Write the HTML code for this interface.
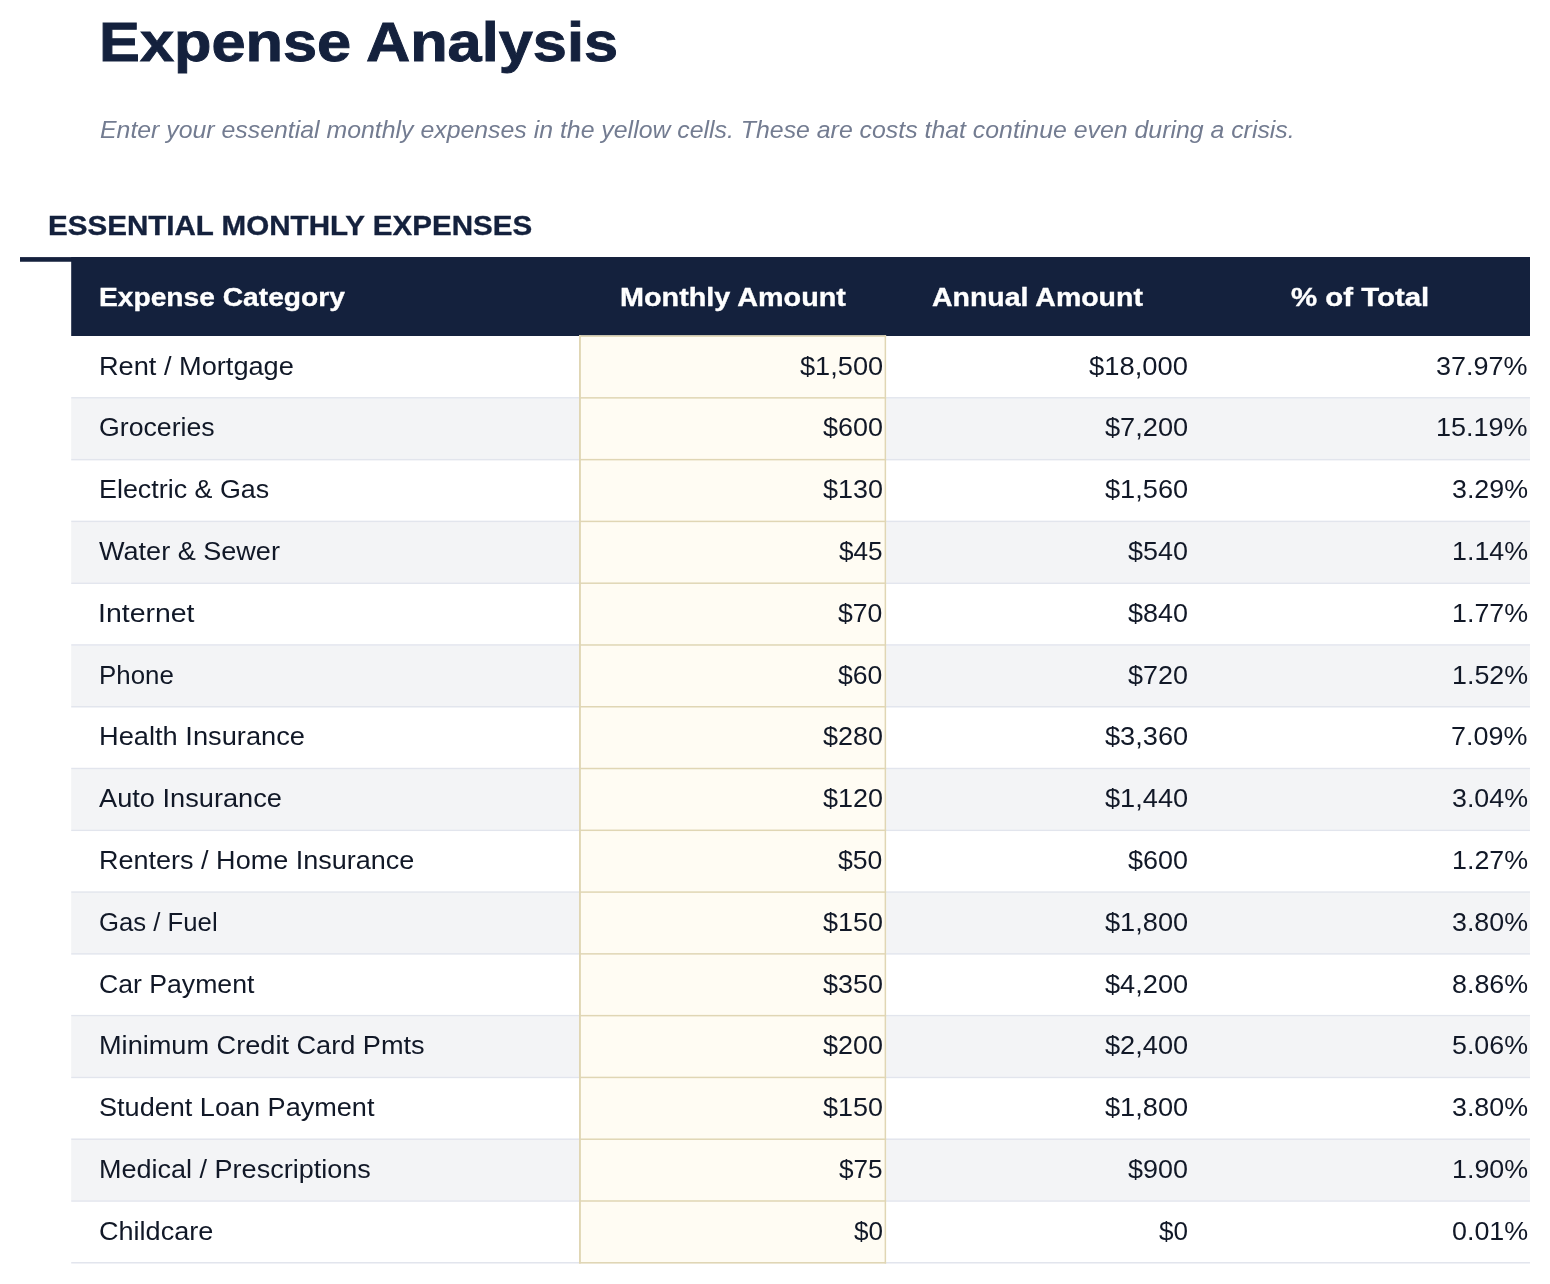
<!DOCTYPE html>
<html><head><meta charset="utf-8"><title>Expense Analysis</title><style>
*{margin:0;padding:0;box-sizing:border-box}
html,body{width:1550px;height:1284px;background:#fff;overflow:hidden}
body{position:relative;font-family:"Liberation Sans",sans-serif}
svg{position:absolute;left:0;top:0}
.t{position:absolute;white-space:nowrap;line-height:1;transform-origin:0 0;will-change:transform}
</style></head>
<body>
<svg width="1550" height="1284" viewBox="0 0 1550 1284"><rect x="20.00" y="257.10" width="1510.00" height="4.65" fill="#14213d"/><rect x="71.20" y="257.10" width="1458.80" height="78.90" fill="#14213d"/><rect x="71.20" y="398.60" width="1458.80" height="60.28" fill="#f3f4f6"/><rect x="71.20" y="522.16" width="1458.80" height="60.28" fill="#f3f4f6"/><rect x="71.20" y="645.72" width="1458.80" height="60.28" fill="#f3f4f6"/><rect x="71.20" y="769.28" width="1458.80" height="60.28" fill="#f3f4f6"/><rect x="71.20" y="892.84" width="1458.80" height="60.28" fill="#f3f4f6"/><rect x="71.20" y="1016.40" width="1458.80" height="60.28" fill="#f3f4f6"/><rect x="71.20" y="1139.96" width="1458.80" height="60.28" fill="#f3f4f6"/><rect x="71.20" y="397.10" width="1458.80" height="1.50" fill="#e2e5ed"/><rect x="71.20" y="458.88" width="1458.80" height="1.50" fill="#e2e5ed"/><rect x="71.20" y="520.66" width="1458.80" height="1.50" fill="#e2e5ed"/><rect x="71.20" y="582.44" width="1458.80" height="1.50" fill="#e2e5ed"/><rect x="71.20" y="644.22" width="1458.80" height="1.50" fill="#e2e5ed"/><rect x="71.20" y="706.00" width="1458.80" height="1.50" fill="#e2e5ed"/><rect x="71.20" y="767.78" width="1458.80" height="1.50" fill="#e2e5ed"/><rect x="71.20" y="829.56" width="1458.80" height="1.50" fill="#e2e5ed"/><rect x="71.20" y="891.34" width="1458.80" height="1.50" fill="#e2e5ed"/><rect x="71.20" y="953.12" width="1458.80" height="1.50" fill="#e2e5ed"/><rect x="71.20" y="1014.90" width="1458.80" height="1.50" fill="#e2e5ed"/><rect x="71.20" y="1076.68" width="1458.80" height="1.50" fill="#e2e5ed"/><rect x="71.20" y="1138.46" width="1458.80" height="1.50" fill="#e2e5ed"/><rect x="71.20" y="1200.24" width="1458.80" height="1.50" fill="#e2e5ed"/><rect x="71.20" y="1262.02" width="1458.80" height="1.50" fill="#e2e5ed"/><rect x="579.00" y="335.40" width="307.10" height="928.12" fill="#fffcf3"/><rect x="579.00" y="335.40" width="307.10" height="1.50" fill="#e0d6b4"/><rect x="579.00" y="335.40" width="1.90" height="928.12" fill="#e0d6b4"/><rect x="884.60" y="335.40" width="1.50" height="928.12" fill="#e0d6b4"/><rect x="579.00" y="397.10" width="307.10" height="1.50" fill="#e0d6b4"/><rect x="579.00" y="458.88" width="307.10" height="1.50" fill="#e0d6b4"/><rect x="579.00" y="520.66" width="307.10" height="1.50" fill="#e0d6b4"/><rect x="579.00" y="582.44" width="307.10" height="1.50" fill="#e0d6b4"/><rect x="579.00" y="644.22" width="307.10" height="1.50" fill="#e0d6b4"/><rect x="579.00" y="706.00" width="307.10" height="1.50" fill="#e0d6b4"/><rect x="579.00" y="767.78" width="307.10" height="1.50" fill="#e0d6b4"/><rect x="579.00" y="829.56" width="307.10" height="1.50" fill="#e0d6b4"/><rect x="579.00" y="891.34" width="307.10" height="1.50" fill="#e0d6b4"/><rect x="579.00" y="953.12" width="307.10" height="1.50" fill="#e0d6b4"/><rect x="579.00" y="1014.90" width="307.10" height="1.50" fill="#e0d6b4"/><rect x="579.00" y="1076.68" width="307.10" height="1.50" fill="#e0d6b4"/><rect x="579.00" y="1138.46" width="307.10" height="1.50" fill="#e0d6b4"/><rect x="579.00" y="1200.24" width="307.10" height="1.50" fill="#e0d6b4"/><rect x="579.00" y="1262.02" width="307.10" height="1.50" fill="#e0d6b4"/></svg>
<div class="t" style="left:98.8px;top:14.0px;font-size:56.02px;color:#14213d;font-weight:700;-webkit-text-stroke:0.9px #14213d;transform:scaleX(1.0943)">Expense Analysis</div>
<div class="t" style="left:100.17px;top:119.01px;font-size:23.02px;color:#737c91;font-style:italic;transform:scaleX(1.0796)">Enter your essential monthly expenses in the yellow cells. These are costs that continue even during a crisis.</div>
<div class="t" style="left:48.19px;top:211.0px;font-size:28.3px;color:#14213d;font-weight:700;-webkit-text-stroke:0.35px #14213d;transform:scaleX(1.0449)">ESSENTIAL MONTHLY EXPENSES</div>
<div class="t" style="left:99.01px;top:285.0px;font-size:25.52px;color:#fff;font-weight:700;-webkit-text-stroke:0.35px #fff;transform:scaleX(1.1045)">Expense Category</div>
<div class="t" style="left:619.57px;top:285.0px;font-size:25.52px;color:#fff;font-weight:700;-webkit-text-stroke:0.35px #fff;transform:scaleX(1.1279)">Monthly Amount</div>
<div class="t" style="left:932.24px;top:285.0px;font-size:25.52px;color:#fff;font-weight:700;-webkit-text-stroke:0.35px #fff;transform:scaleX(1.1159)">Annual Amount</div>
<div class="t" style="left:1291.44px;top:285.0px;font-size:25.52px;color:#fff;font-weight:700;-webkit-text-stroke:0.35px #fff;transform:scaleX(1.1519)">% of Total</div>
<div class="t" style="left:98.98px;top:354.0px;font-size:25.52px;color:#111827;transform:scaleX(1.065)">Rent / Mortgage</div>
<div class="t" style="left:799.64px;top:354.0px;font-size:25.52px;color:#111827;transform:scaleX(1.065)">$1,500</div>
<div class="t" style="left:1089.35px;top:354.0px;font-size:25.52px;color:#111827;transform:scaleX(1.0718)">$18,000</div>
<div class="t" style="left:1436.48px;top:354.0px;font-size:25.52px;color:#111827;transform:scaleX(1.0574)">37.97%</div>
<div class="t" style="left:99.03px;top:415.0px;font-size:25.52px;color:#111827;transform:scaleX(1.0456)">Groceries</div>
<div class="t" style="left:822.65px;top:415.0px;font-size:25.52px;color:#111827;transform:scaleX(1.0555)">$600</div>
<div class="t" style="left:1105.04px;top:415.0px;font-size:25.52px;color:#111827;transform:scaleX(1.065)">$7,200</div>
<div class="t" style="left:1436.39px;top:415.0px;font-size:25.52px;color:#111827;transform:scaleX(1.0584)">15.19%</div>
<div class="t" style="left:99.01px;top:477.0px;font-size:25.52px;color:#111827;transform:scaleX(1.0531)">Electric &amp; Gas</div>
<div class="t" style="left:822.65px;top:477.0px;font-size:25.52px;color:#111827;transform:scaleX(1.0555)">$130</div>
<div class="t" style="left:1105.04px;top:477.0px;font-size:25.52px;color:#111827;transform:scaleX(1.065)">$1,560</div>
<div class="t" style="left:1451.76px;top:477.0px;font-size:25.52px;color:#111827;transform:scaleX(1.0507)">3.29%</div>
<div class="t" style="left:99.49px;top:539.0px;font-size:25.52px;color:#111827;transform:scaleX(1.0602)">Water &amp; Sewer</div>
<div class="t" style="left:838.69px;top:539.0px;font-size:25.52px;color:#111827;transform:scaleX(1.0258)">$45</div>
<div class="t" style="left:1128.05px;top:539.0px;font-size:25.52px;color:#111827;transform:scaleX(1.0555)">$540</div>
<div class="t" style="left:1451.68px;top:539.0px;font-size:25.52px;color:#111827;transform:scaleX(1.0518)">1.14%</div>
<div class="t" style="left:98.35px;top:601.0px;font-size:25.52px;color:#111827;transform:scaleX(1.1151)">Internet</div>
<div class="t" style="left:837.97px;top:601.0px;font-size:25.52px;color:#111827;transform:scaleX(1.0426)">$70</div>
<div class="t" style="left:1128.05px;top:601.0px;font-size:25.52px;color:#111827;transform:scaleX(1.0555)">$840</div>
<div class="t" style="left:1451.68px;top:601.0px;font-size:25.52px;color:#111827;transform:scaleX(1.0518)">1.77%</div>
<div class="t" style="left:99.08px;top:663.0px;font-size:25.52px;color:#111827;transform:scaleX(1.0141)">Phone</div>
<div class="t" style="left:837.97px;top:663.0px;font-size:25.52px;color:#111827;transform:scaleX(1.0426)">$60</div>
<div class="t" style="left:1128.05px;top:663.0px;font-size:25.52px;color:#111827;transform:scaleX(1.0555)">$720</div>
<div class="t" style="left:1451.68px;top:663.0px;font-size:25.52px;color:#111827;transform:scaleX(1.0518)">1.52%</div>
<div class="t" style="left:98.98px;top:724.0px;font-size:25.52px;color:#111827;transform:scaleX(1.0678)">Health Insurance</div>
<div class="t" style="left:822.65px;top:724.0px;font-size:25.52px;color:#111827;transform:scaleX(1.0555)">$280</div>
<div class="t" style="left:1105.04px;top:724.0px;font-size:25.52px;color:#111827;transform:scaleX(1.065)">$3,360</div>
<div class="t" style="left:1451.42px;top:724.0px;font-size:25.52px;color:#111827;transform:scaleX(1.0555)">7.09%</div>
<div class="t" style="left:99.05px;top:786.0px;font-size:25.52px;color:#111827;transform:scaleX(1.0658)">Auto Insurance</div>
<div class="t" style="left:822.65px;top:786.0px;font-size:25.52px;color:#111827;transform:scaleX(1.0555)">$120</div>
<div class="t" style="left:1105.04px;top:786.0px;font-size:25.52px;color:#111827;transform:scaleX(1.065)">$1,440</div>
<div class="t" style="left:1451.76px;top:786.0px;font-size:25.52px;color:#111827;transform:scaleX(1.0507)">3.04%</div>
<div class="t" style="left:99.0px;top:848.0px;font-size:25.52px;color:#111827;transform:scaleX(1.0589)">Renters / Home Insurance</div>
<div class="t" style="left:837.97px;top:848.0px;font-size:25.52px;color:#111827;transform:scaleX(1.0426)">$50</div>
<div class="t" style="left:1128.05px;top:848.0px;font-size:25.52px;color:#111827;transform:scaleX(1.0555)">$600</div>
<div class="t" style="left:1451.68px;top:848.0px;font-size:25.52px;color:#111827;transform:scaleX(1.0518)">1.27%</div>
<div class="t" style="left:99.06px;top:910.0px;font-size:25.52px;color:#111827;transform:scaleX(1.008)">Gas / Fuel</div>
<div class="t" style="left:822.65px;top:910.0px;font-size:25.52px;color:#111827;transform:scaleX(1.0555)">$150</div>
<div class="t" style="left:1105.04px;top:910.0px;font-size:25.52px;color:#111827;transform:scaleX(1.065)">$1,800</div>
<div class="t" style="left:1451.76px;top:910.0px;font-size:25.52px;color:#111827;transform:scaleX(1.0507)">3.80%</div>
<div class="t" style="left:98.6px;top:972.0px;font-size:25.52px;color:#111827;transform:scaleX(1.0435)">Car Payment</div>
<div class="t" style="left:822.65px;top:972.0px;font-size:25.52px;color:#111827;transform:scaleX(1.0555)">$350</div>
<div class="t" style="left:1105.04px;top:972.0px;font-size:25.52px;color:#111827;transform:scaleX(1.065)">$4,200</div>
<div class="t" style="left:1451.66px;top:972.0px;font-size:25.52px;color:#111827;transform:scaleX(1.0522)">8.86%</div>
<div class="t" style="left:98.99px;top:1033.0px;font-size:25.52px;color:#111827;transform:scaleX(1.0634)">Minimum Credit Card Pmts</div>
<div class="t" style="left:822.65px;top:1033.0px;font-size:25.52px;color:#111827;transform:scaleX(1.0555)">$200</div>
<div class="t" style="left:1105.04px;top:1033.0px;font-size:25.52px;color:#111827;transform:scaleX(1.065)">$2,400</div>
<div class="t" style="left:1451.76px;top:1033.0px;font-size:25.52px;color:#111827;transform:scaleX(1.0507)">5.06%</div>
<div class="t" style="left:98.64px;top:1095.0px;font-size:25.52px;color:#111827;transform:scaleX(1.0611)">Student Loan Payment</div>
<div class="t" style="left:822.65px;top:1095.0px;font-size:25.52px;color:#111827;transform:scaleX(1.0555)">$150</div>
<div class="t" style="left:1105.04px;top:1095.0px;font-size:25.52px;color:#111827;transform:scaleX(1.065)">$1,800</div>
<div class="t" style="left:1451.76px;top:1095.0px;font-size:25.52px;color:#111827;transform:scaleX(1.0507)">3.80%</div>
<div class="t" style="left:99.0px;top:1157.0px;font-size:25.52px;color:#111827;transform:scaleX(1.0587)">Medical / Prescriptions</div>
<div class="t" style="left:838.69px;top:1157.0px;font-size:25.52px;color:#111827;transform:scaleX(1.0258)">$75</div>
<div class="t" style="left:1128.05px;top:1157.0px;font-size:25.52px;color:#111827;transform:scaleX(1.0555)">$900</div>
<div class="t" style="left:1451.68px;top:1157.0px;font-size:25.52px;color:#111827;transform:scaleX(1.0518)">1.90%</div>
<div class="t" style="left:98.58px;top:1219.0px;font-size:25.52px;color:#111827;transform:scaleX(1.0604)">Childcare</div>
<div class="t" style="left:853.67px;top:1219.0px;font-size:25.52px;color:#111827;transform:scaleX(1.0229)">$0</div>
<div class="t" style="left:1159.07px;top:1219.0px;font-size:25.52px;color:#111827;transform:scaleX(1.0229)">$0</div>
<div class="t" style="left:1451.65px;top:1219.0px;font-size:25.52px;color:#111827;transform:scaleX(1.0523)">0.01%</div>
</body></html>
